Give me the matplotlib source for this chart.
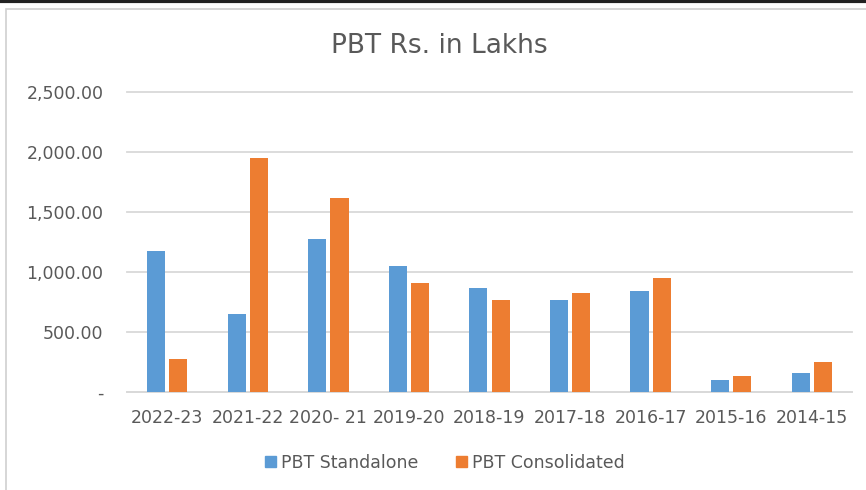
import matplotlib
matplotlib.use("Agg")
import matplotlib.pyplot as plt
from matplotlib.patches import Rectangle
from matplotlib.lines import Line2D
import numpy as np

categories = ["2022-23", "2021-22", "2020- 21", "2019-20", "2018-19",
              "2017-18", "2016-17", "2015-16", "2014-15"]
standalone = [1175, 652, 1277, 1050, 868, 768, 838, 103, 158]
consolidated = [275, 1950, 1618, 910, 768, 822, 950, 136, 247]
yticks = [0, 500, 1000, 1500, 2000, 2500]
ytick_labels = ["-", "500.00", "1,000.00", "1,500.00", "2,000.00", "2,500.00"]

blue = "#5B9BD5"
orange = "#ED7D31"
grid = "#D9D9D9"
txt = "#595959"

plt.rcParams['font.family'] = ['DejaVu Sans']

fig = plt.figure(figsize=(8.66, 4.9), dpi=100)
# frame decorations
fig.add_artist(Line2D([0, 1], [1 - 1.5/490, 1 - 1.5/490], color="#222222", lw=3, transform=fig.transFigure))
fig.add_artist(Rectangle((6/866, -0.01), 1.0, 1 - 9/490 + 0.01, transform=fig.transFigure,
                         fill=False, edgecolor="#D0D0D0", lw=1.2))

ax = fig.add_axes([127/866, 1 - 392/490, (852 - 127)/866, 300/490])
x = np.arange(len(categories))
w = 0.225
gap = 0.05
ax.bar(x - (w + gap)/2, standalone, width=w, color=blue, label="PBT Standalone", zorder=3)
ax.bar(x + (w + gap)/2, consolidated, width=w, color=orange, label="PBT Consolidated", zorder=3)

ax.set_xlim(-0.5, len(categories) - 0.5)
ax.set_ylim(0, 2500)
ax.set_yticks(yticks)
ax.set_yticklabels(ytick_labels)
ax.set_xticks(x)
ax.set_xticklabels(categories)
ax.grid(axis="y", color=grid, lw=1.3, zorder=0)
for gl in ax.get_ygridlines():
    gl.set_clip_on(False)
for s in ["top", "right", "left"]:
    ax.spines[s].set_visible(False)
ax.spines["bottom"].set_color(grid)
ax.spines["bottom"].set_linewidth(1.3)
ax.tick_params(axis="both", length=0, colors=txt, labelsize=12.5)
ax.tick_params(axis="y", pad=17)
ax.tick_params(axis="x", pad=12)

fig.text(439/866, 1 - 46/490, "PBT Rs. in Lakhs", ha="center", va="center",
         fontsize=19, color=txt)

handles = [Rectangle((0, 0), 1, 1, color=blue), Rectangle((0, 0), 1, 1, color=orange)]
fig.legend(handles, ["PBT Standalone", "PBT Consolidated"], loc="center",
           bbox_to_anchor=(445/866, 1 - 463/490), ncol=2, frameon=False,
           fontsize=12.5, handlelength=0.6, handleheight=0.6, handletextpad=0.3,
           columnspacing=2.2, labelcolor=txt)

fig.savefig("out.png", dpi=100)
